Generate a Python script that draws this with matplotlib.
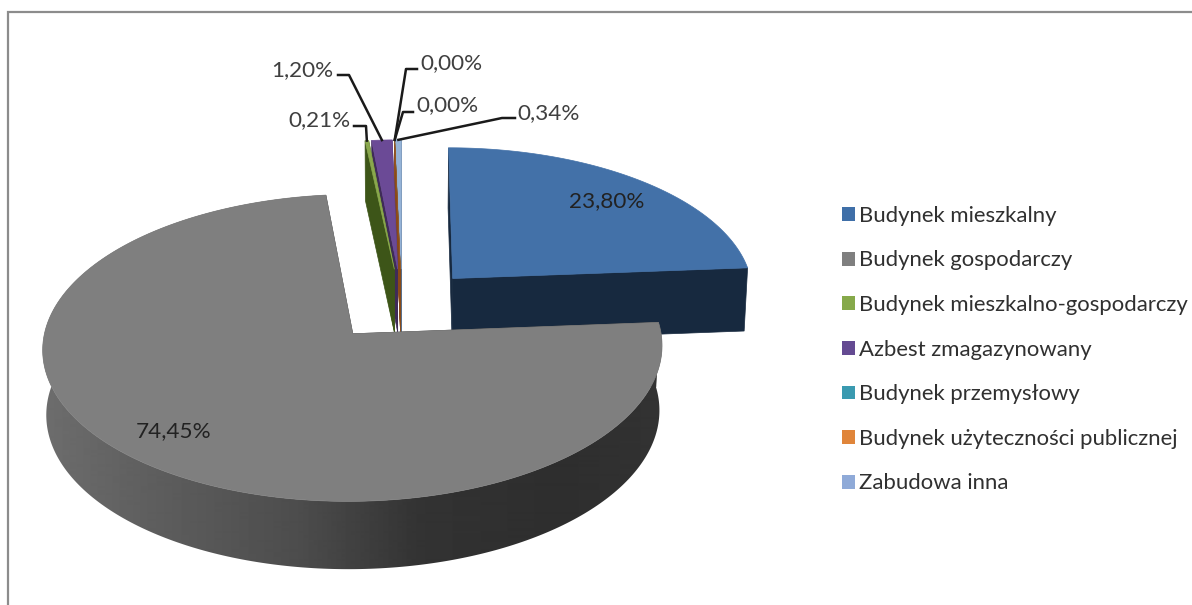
import numpy as np
import matplotlib
matplotlib.use("Agg")
import matplotlib.pyplot as plt
from matplotlib.patches import Patch, Polygon

# chart data
categories = ["Budynek mieszkalny", "Budynek gospodarczy", "Budynek mieszkalno-gospodarczy",
              "Azbest zmagazynowany", "Budynek przemysłowy",
              "Budynek użyteczności publicznej", "Zabudowa inna"]
values = [23.80, 74.45, 0.21, 1.20, 0.00, 0.00, 0.34]
labels = ["23,80%", "74,45%", "0,21%", "1,20%", "0,00%", "0,00%", "0,34%"]
colors = ["#4371a8", "#7f7f7f", "#8aa84d", "#6b4a96", "#3a9ab0", "#a8682c", "#95b3d7"]
legend_colors = ["#3f6fa8", "#7f7f7f", "#86a94a", "#644a92", "#3a9ab0", "#e0853a", "#8faad8"]
wall_colors = ["#17293f", "#3a3a3a", "#3d5518", "#3f2b58", "#8a4a18", "#8a4a18", "#5a708c"]

# projection of the pie, in pixels
cx, cy = 402, 305
rx, ry = 303, 147
persp = 0.09
explode = 0.25
depth = 64

plt.rcParams['font.family'] = ['Lato', 'DejaVu Sans']


def project(wx, wy, down=False):
    w = 1 + persp * wy
    x = rx * wx / w
    y = -ry * wy / w
    if down:
        x = x * 0.99
        y = y + depth * (1 - 0.05 * wy)
    return cx + x, cy + y


fig = plt.figure(figsize=(11.92, 6.05), dpi=100)
ax = fig.add_axes([0, 0, 1, 1])
ax.set_xlim(0, 1192)
ax.set_ylim(605, 0)
ax.axis("off")

# frame, runs off the picture right and bottom
ax.plot([8, 8, 1192], [605, 12, 12], color="#8c8c8c", lw=1.6, solid_joinstyle="miter")

# slices go clockwise from 12 o'clock
pct = np.array(values) / sum(values)
starts = np.concatenate([[0], np.cumsum(pct)[:-1]]) * 2 * np.pi
ends = np.cumsum(pct) * 2 * np.pi

tips = []
slices = []
for i in range(len(values)):
    mid = (starts[i] + ends[i]) / 2
    ox, oy = explode * np.sin(mid), explode * np.cos(mid)
    t = np.linspace(starts[i], ends[i], 300)
    wx = ox + np.sin(t)
    wy = oy + np.cos(t)
    slices.append((ox, oy, wx, wy))
    tips.append(project(ox + np.sin(mid), oy + np.cos(mid)))

# back to front: small slices right to left, then blue, then the big gray one
for i in [6, 4, 5, 3, 2, 0, 1]:
    ox, oy, wx, wy = slices[i]
    # zero slices are only a hairline
    edge = 0.3 if values[i] == 0 else 0.5
    # radial walls
    for j in [0, -1]:
        x0, y0 = project(ox, oy)
        x1, y1 = project(wx[j], wy[j])
        x2, y2 = project(wx[j], wy[j], down=True)
        x3, y3 = project(ox, oy, down=True)
        ax.add_patch(Polygon([(x0, y0), (x1, y1), (x2, y2), (x3, y3)],
                             fc=wall_colors[i], ec=wall_colors[i], lw=edge))
    # outer rim, only the gray slice shows it: gradient clipped to the rim shape
    if i == 1:
        ux, uy = project(wx, wy)
        dx, dy = project(wx, wy, down=True)
        rim = Polygon(np.column_stack([np.r_[ux, dx[::-1]], np.r_[uy, dy[::-1]]]),
                      fc="none", ec="none", transform=ax.transData)
        ax.add_patch(rim)
        grad_x = np.arange(30, 680)
        grad = np.interp(grad_x, [40, 150, 300, 420, 560, 665],
                         [0.43, 0.37, 0.30, 0.20, 0.18, 0.20])
        im = ax.imshow(grad[None, :], extent=(30, 680, 605, 0), cmap="gray", vmin=0, vmax=1,
                       aspect="auto", zorder=1, interpolation="bilinear")
        im.set_clip_path(rim)
    # top face
    px, py = project(wx, wy)
    ax0, ay0 = project(ox, oy)
    ax.add_patch(Polygon(np.column_stack([np.r_[ax0, px], np.r_[ay0, py]]),
                         fc=colors[i], ec=colors[i], lw=edge, zorder=2 if i == 1 else 1))
ax.set_xlim(0, 1192)
ax.set_ylim(605, 0)

# labels inside the slices
ax.text(607, 201, labels[0], ha="center", va="center", fontsize=16.2, color="#222222", zorder=5)
ax.text(174, 431, labels[1], ha="center", va="center", fontsize=16.2, color="#222222", zorder=5)

# outside labels with leader lines
elbows = {2: [(354, 126), (366, 126)], 3: [(338, 75), (349, 75)], 4: [(417, 69), (406, 69)],
          5: [(413, 112), (403, 112)], 6: [(515, 118), (502, 118)]}
label_pos = {2: (288, 120), 3: (271, 70), 4: (420, 63), 5: (416, 105), 6: (517, 113)}
for i in elbows:
    xs = [p[0] for p in elbows[i]] + [tips[i][0]]
    ys = [p[1] for p in elbows[i]] + [tips[i][1]]
    ax.plot(xs, ys, color="#1a1a1a", lw=1.8, zorder=4)
    ax.text(label_pos[i][0], label_pos[i][1], labels[i], ha="left", va="center",
            fontsize=16.2, color="#404040", zorder=5)

handles = [Patch(fc=c, ec="none") for c in legend_colors]
ax.legend(handles, categories, loc="upper left", bbox_to_anchor=(822 / 1192, 1 - 186 / 605),
          bbox_transform=fig.transFigure, frameon=False, fontsize=15.9, labelspacing=1.114,
          handlelength=0.58, handleheight=0.58, handletextpad=0.18, borderpad=0.4,
          labelcolor="#303030")

fig.savefig("out.png", dpi=100)
